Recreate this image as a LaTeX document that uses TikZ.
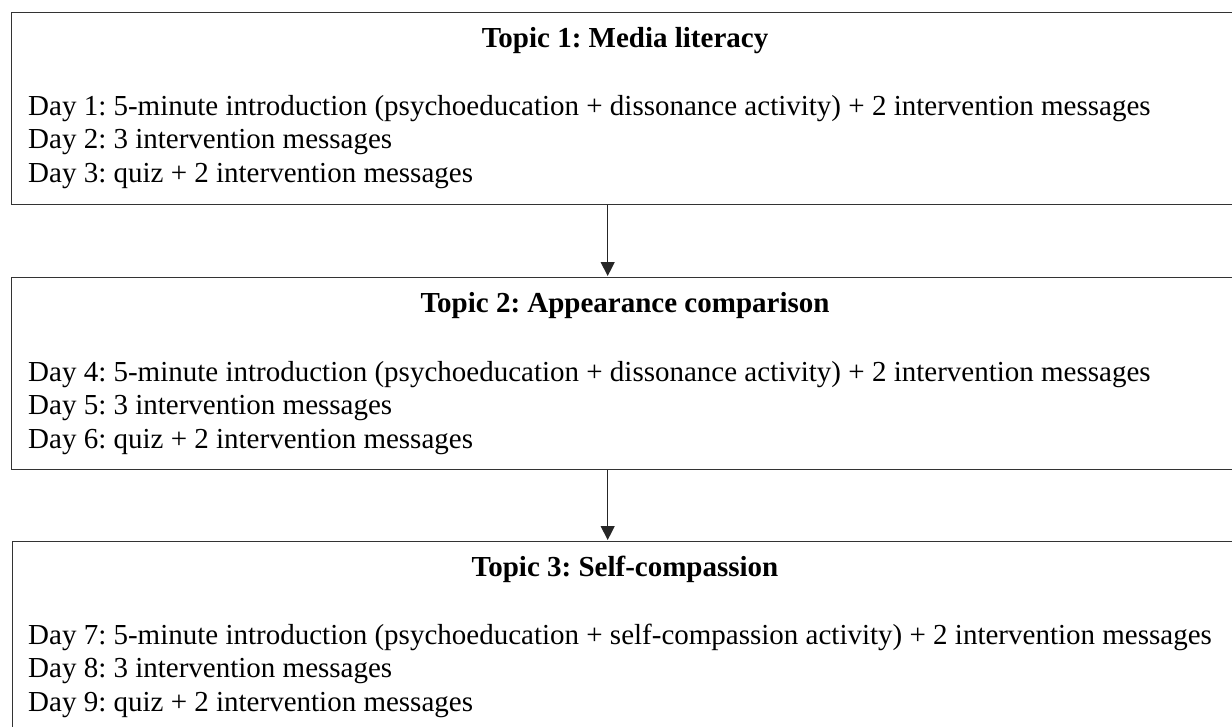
\documentclass[tikz,border=0pt]{standalone}
\usepackage{fontspec}
\setmainfont{Liberation Serif}
\usetikzlibrary{arrows.meta}
\frenchspacing

\begin{document}
\begin{tikzpicture}[
  x=1pt,y=-1pt,
  topicbox/.style={draw=black!80,line width=1.4pt,minimum width=1226pt,
    minimum height=192pt,anchor=north west,inner sep=0pt},
  topictitle/.style={font=\fontsize{29}{33.5}\selectfont\bfseries,
    anchor=base,inner sep=0pt},
  dayline/.style={font=\fontsize{29}{33.5}\selectfont,anchor=base west,
    inner sep=0pt},
  link/.style={->,line width=1.2pt,draw=black!85},
  >={Triangle[width=14pt,length=14pt]}
]
\useasboundingbox (0,0) rectangle (1232,726);
\clip (0,0) rectangle (1232,726);
% Topic 1
\node[topicbox] (topic1) at (11,12) {};
\node[topictitle] (title1) at (625,47) {Topic 1: Media literacy};
\node[dayline] (day1) at (28,115)
  {Day 1: 5-minute introduction (psychoeducation + dissonance activity) + 2 intervention messages};
\node[dayline] (day2) at (28,148.5) {Day 2: 3 intervention messages};
\node[dayline] (day3) at (28,182) {Day 3: quiz + 2 intervention messages};
% Topic 2
\node[topicbox] (topic2) at (11,277) {};
\node[topictitle] (title2) at (625,312) {Topic 2: Appearance comparison};
\node[dayline] (day4) at (28,381)
  {Day 4: 5-minute introduction (psychoeducation + dissonance activity) + 2 intervention messages};
\node[dayline] (day5) at (28,414.5) {Day 5: 3 intervention messages};
\node[dayline] (day6) at (28,448) {Day 6: quiz + 2 intervention messages};
% Topic 3
\node[topicbox] (topic3) at (12,541) {};
\node[topictitle] (title3) at (625,576) {Topic 3: Self-compassion};
\node[dayline] (day7) at (28,644)
  {Day 7: 5-minute introduction (psychoeducation + self-compassion activity) + 2 intervention messages};
\node[dayline] (day8) at (28,677.5) {Day 8: 3 intervention messages};
\node[dayline] (day9) at (28,711) {Day 9: quiz + 2 intervention messages};
\draw[link] ([xshift=-17pt]topic1.south) -- ([xshift=-17pt,yshift=1pt]topic2.north);
\draw[link] ([xshift=-17pt]topic2.south) -- ([xshift=-18pt,yshift=1pt]topic3.north);
\end{tikzpicture}
\end{document}
